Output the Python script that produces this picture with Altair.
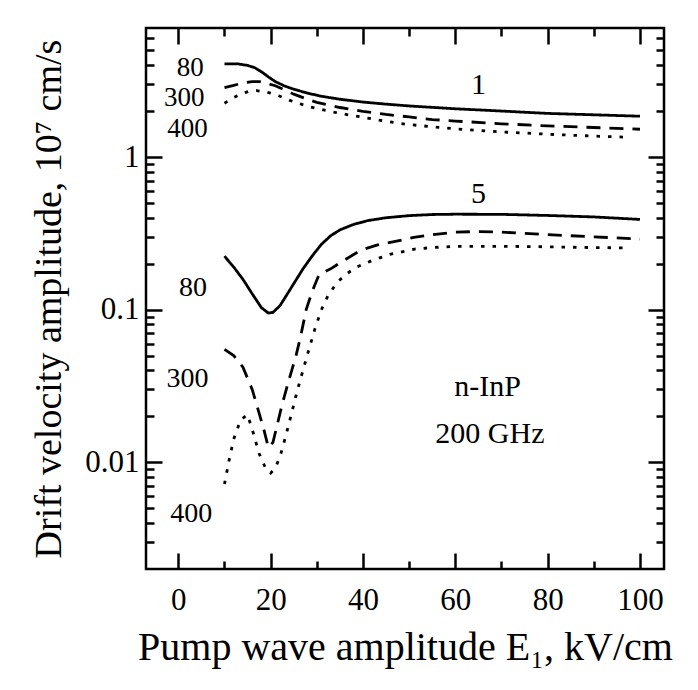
import altair as alt
import pandas as pd

FONT = "Liberation Serif"

# ---- upper family (curve "1") ----
u80_x = [10, 13, 15, 16.5, 18, 19.5, 21, 23, 25, 28, 31, 35, 40, 45, 50, 60, 70, 80, 90, 100]
u80_y = [4.08, 4.07, 3.98, 3.85, 3.62, 3.35, 3.12, 2.92, 2.78, 2.62, 2.50, 2.39, 2.29, 2.22, 2.16, 2.07, 2.00, 1.93, 1.89, 1.85]
u300_x = [10, 12, 14, 16, 17.5, 19, 21, 23, 25, 27.5, 30, 35, 40, 45, 50, 55, 60, 70, 80, 90, 100]
u300_y = [2.85, 2.95, 3.05, 3.12, 3.12, 3.05, 2.93, 2.75, 2.58, 2.42, 2.28, 2.11, 1.99, 1.90, 1.83, 1.76, 1.72, 1.65, 1.60, 1.56, 1.52]
u400_x = [10, 12, 14, 15.5, 17, 18.5, 20, 22, 24, 26, 28, 31, 35, 40, 45, 50, 60, 70, 80, 90, 96.5]
u400_y = [2.25, 2.45, 2.62, 2.70, 2.72, 2.68, 2.62, 2.50, 2.36, 2.25, 2.15, 2.05, 1.93, 1.82, 1.71, 1.63, 1.53, 1.46, 1.41, 1.37, 1.35]

# ---- lower family (curve "5") ----
l80_x = [10, 12, 14, 16, 18, 19.5, 20.5, 22, 23.5, 25, 27, 29, 31, 33, 35, 38, 41, 45, 50, 55, 60, 70, 80, 90, 100]
l80_y = [0.224, 0.19, 0.158, 0.127, 0.103, 0.095, 0.096, 0.106, 0.125, 0.148, 0.185, 0.225, 0.268, 0.305, 0.333, 0.362, 0.383, 0.40, 0.413, 0.42, 0.422, 0.421, 0.414, 0.405, 0.39]
l300_x = [10, 12, 14, 16, 17.5, 18.5, 19.5, 20.5, 21.5, 22.5, 24, 25.5, 26.5, 27.7, 29, 30.5, 33, 35.5, 39.5, 43, 47, 51, 55, 60, 65, 70, 80, 90, 100]
l300_y = [0.055, 0.05, 0.042, 0.03, 0.021, 0.0165, 0.0125, 0.0135, 0.018, 0.024, 0.035, 0.05, 0.067, 0.1, 0.132, 0.17, 0.185, 0.207, 0.245, 0.265, 0.28, 0.297, 0.31, 0.322, 0.325, 0.322, 0.31, 0.30, 0.29]
l400_x = [10, 11, 12, 13.5, 15, 16.2, 17.5, 19, 20, 21, 22, 23.3, 24.5, 25.7, 27, 28.3, 29.6, 31, 32.5, 34.5, 36.5, 38.6, 42, 45.8, 51.4, 55, 60, 70, 80, 90, 96.5]
l400_y = [0.0072, 0.0103, 0.0142, 0.019, 0.0205, 0.0157, 0.0114, 0.009, 0.0085, 0.0092, 0.0108, 0.015, 0.0207, 0.029, 0.04, 0.055, 0.075, 0.1, 0.125, 0.152, 0.172, 0.19, 0.21, 0.23, 0.25, 0.255, 0.26, 0.26, 0.258, 0.255, 0.254]

# ---- annotations ----
lab_text = ["80", "300", "400", "1", "5", "80", "300", "400", "n-InP", "200 GHz"]
lab_x = [2.6, 1.3, 2.0, 65, 65, 3.2, 2.0, 2.8, 67, 67.5]
lab_y = [3.85, 2.42, 1.52, 2.96, 0.574, 0.139, 0.035, 0.0046, 0.031, 0.0153]
lab_size = [27, 27, 27, 30, 30, 28, 28, 28, 30, 30]

# ---- ticks ----
x_major = [0, 20, 40, 60, 80, 100]
x_minor = [10, 30, 50, 70, 90]
y_major = [0.01, 0.1, 1]
y_minor = [0.003, 0.004, 0.005, 0.006, 0.007, 0.008, 0.009,
           0.02, 0.03, 0.04, 0.05, 0.06, 0.07, 0.08, 0.09,
           0.2, 0.3, 0.4, 0.5, 0.6, 0.7, 0.8, 0.9,
           2, 3, 4, 5, 6]

rows = []
for name, style, xs, ys in [
    ("u80", "solid", u80_x, u80_y), ("u300", "dashed", u300_x, u300_y), ("u400", "dotted", u400_x, u400_y),
    ("l80", "solid", l80_x, l80_y), ("l300", "dashed", l300_x, l300_y), ("l400", "dotted", l400_x, l400_y),
]:
    for x, y in zip(xs, ys):
        rows.append({"x": x, "y": y, "curve": name, "style": style})
df = pd.DataFrame(rows)
labels_df = pd.DataFrame({"x": lab_x, "y": lab_y, "t": lab_text, "s": lab_size})

xscale = alt.Scale(domain=[-7, 105.2], nice=False, zero=False)
yscale = alt.Scale(type="log", domain=[0.002, 7], nice=False)

MAJ = 16
MIN = 8


def tick_axis(orient, values, size):
    return alt.Axis(orient=orient, values=values, tickSize=size, offset=-size,
                    domain=False, grid=False, labels=False, ticks=True,
                    tickColor="black", tickWidth=2.5, title=None)


main_x = alt.Axis(orient="bottom", values=x_major, tickSize=MAJ, offset=-MAJ,
                  domain=False, grid=False, tickColor="black", tickWidth=2.5,
                  labelFont=FONT, labelFontSize=31, labelColor="black", labelPadding=16,
                  labelFlush=False, labelOverlap=False,
                  title="Pump wave amplitude E\u2081, kV/cm", titleFont=FONT, titleFontSize=40,
                  titleFontWeight="normal", titleColor="black", titlePadding=12)
main_y = alt.Axis(orient="left", values=y_major, format="~g", tickSize=MAJ, offset=-MAJ,
                  domain=False, grid=False, tickColor="black", tickWidth=2.5,
                  labelFont=FONT, labelFontSize=31, labelColor="black", labelPadding=7,
                  labelFlush=False, labelOverlap=False,
                  title="Drift velocity amplitude, 10\u2077 cm/s", titleFont=FONT, titleFontSize=38,
                  titleFontWeight="normal", titleColor="black", titlePadding=16)

lines = alt.Chart(df).mark_line(color="black", strokeWidth=2.8).encode(
    x=alt.X("x:Q", scale=xscale, axis=main_x),
    y=alt.Y("y:Q", scale=yscale, axis=main_y),
    strokeDash=alt.StrokeDash("style:N", scale=alt.Scale(domain=["solid", "dashed", "dotted"],
                                                         range=[[1, 0], [14, 9], [3.5, 8]]), legend=None),
    detail="curve:N",
)

minor_bl = alt.Chart(df).mark_point(opacity=0, size=1).encode(
    x=alt.X("x:Q", scale=xscale, axis=tick_axis("bottom", x_minor, MIN)),
    y=alt.Y("y:Q", scale=yscale, axis=tick_axis("left", y_minor, MIN)),
)
major_tr = alt.Chart(df).mark_point(opacity=0, size=1).encode(
    x=alt.X("x:Q", scale=xscale, axis=tick_axis("top", x_major, MAJ)),
    y=alt.Y("y:Q", scale=yscale, axis=tick_axis("right", y_major, MAJ)),
)
minor_tr = alt.Chart(df).mark_point(opacity=0, size=1).encode(
    x=alt.X("x:Q", scale=xscale, axis=tick_axis("top", x_minor, MIN)),
    y=alt.Y("y:Q", scale=yscale, axis=tick_axis("right", y_minor, MIN)),
)

texts = alt.Chart(labels_df).mark_text(font=FONT, color="black").encode(
    x=alt.X("x:Q", scale=xscale, axis=None),
    y=alt.Y("y:Q", scale=yscale, axis=None),
    text="t:N",
    size=alt.Size("s:Q", scale=None, legend=None),
)

chart = alt.layer(lines, minor_bl, major_tr, minor_tr, texts).resolve_axis(
    x="independent", y="independent"
).properties(
    width=518, height=541,
    autosize=alt.AutoSizeParams(type="none"),
    padding={"left": 138, "top": 20, "right": 20, "bottom": 100},
    background="white",
).configure_view(stroke="black", strokeWidth=2.5)

chart.save("out.html", embed_options={"renderer": "svg", "actions": False})
